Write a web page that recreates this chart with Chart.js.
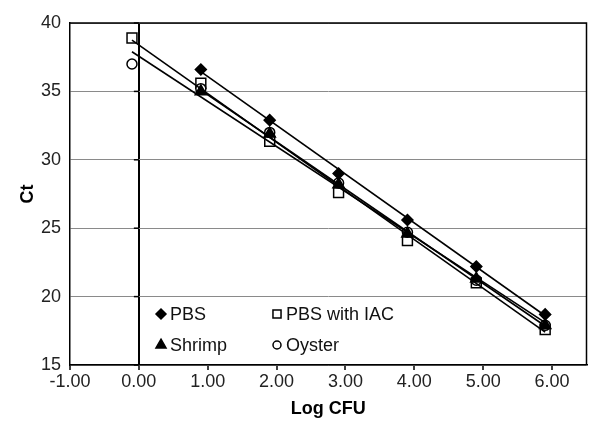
<!DOCTYPE html>
<html><head><meta charset="utf-8">
<script src="https://cdn.jsdelivr.net/npm/chart.js@4"></script>
<style>html,body{margin:0;padding:0;background:#fff}#wrap{width:595px;height:421px;position:relative}</style>
</head><body><div id="wrap"><canvas id="c"></canvas></div>
<script>
// Data
const xValues = [-0.1, 0.9, 1.9, 2.9, 3.9, 4.9, 5.9];
const pbs      = [null, 36.6, 32.9, 29.0, 25.6, 22.2, 18.7];
const pbsIac   = [38.9, 35.6, 31.35, 27.6, 24.1, 21.0, 17.6];
const shrimp   = [null, 35.0, 31.9, 28.2, 24.6, 21.3, 17.9];
const oyster   = [37.0, 35.2, 32.0, 28.3, 24.7, 21.2, 17.9];
// trendline end points (x, y)
const trendPbsX = [0.9, 5.9],    trendPbsY = [36.45, 18.6];
const trendIacX = [-0.1, 5.9],   trendIacY = [38.75, 17.4];
const trendShrimpX = [0.9, 5.9], trendShrimpY = [35.1, 17.85];
const trendOysterX = [-0.1, 5.9],trendOysterY = [37.9, 18.1];
const xTicks = [-1, 0, 1, 2, 3, 4, 5, 6];
const yTicks = [15, 20, 25, 30, 35, 40];
const legendLabels = ['PBS', 'PBS with IAC', 'Shrimp', 'Oyster'];

const FONT = "'Liberation Sans', Arial, Helvetica, sans-serif";
Chart.defaults.font.family = FONT;
Chart.defaults.font.size = 18;
Chart.defaults.color = '#222';

const pts = (xs, ys) => xs.map((x, i) => ys[i] == null ? null : {x: x, y: ys[i]}).filter(p => p);

const markerStyles = [
  {pointStyle: 'rectRot', radius: 5.5, bg: '#000', lr: 5},
  {pointStyle: 'rect', radius: 7, bg: '#fff', lr: 5.7},
  {pointStyle: 'triangle', radius: 6.5, bg: '#000', lr: 5.8},
  {pointStyle: 'circle', radius: 5, bg: '#fff', lr: 4}
];
const seriesData = [pbs, pbsIac, shrimp, oyster];
const drawOrder = [1, 4, 2, 3];

const datasets = [];
seriesData.forEach((s, i) => {
  const m = markerStyles[i];
  datasets.push({
    type: 'scatter', label: legendLabels[i], data: pts(xValues, s),
    pointStyle: m.pointStyle, pointRadius: m.radius, pointBackgroundColor: m.bg,
    pointBorderColor: '#000', pointBorderWidth: 1.5, showLine: false, order: drawOrder[i]
  });
});
[[trendPbsX, trendPbsY], [trendIacX, trendIacY], [trendShrimpX, trendShrimpY], [trendOysterX, trendOysterY]].forEach(t => {
  datasets.push({
    type: 'line', label: '', data: pts(t[0], t[1]), borderColor: '#000', borderWidth: 1.6,
    pointRadius: 0, fill: false, order: 0
  });
});

const framePlugin = {
  id: 'frame',
  beforeDatasetsDraw(chart) {
    const {ctx, chartArea: a, scales} = chart;
    ctx.save();
    ctx.strokeStyle = '#000';
    ctx.lineWidth = 1.5;
    ctx.beginPath();
    ctx.moveTo(a.left, a.top); ctx.lineTo(a.right, a.top); ctx.lineTo(a.right, a.bottom);
    ctx.stroke();
    // small tick marks on the vertical axis line at x = 0
    const x0 = scales.x.getPixelForValue(0);
    yTicks.forEach(v => {
      const y = scales.y.getPixelForValue(v);
      ctx.beginPath(); ctx.moveTo(x0 - 5, y); ctx.lineTo(x0, y); ctx.stroke();
    });
    ctx.restore();
  },
  afterDatasetsDraw(chart) {
    const {ctx, chartArea: a} = chart;
    const pos = [[91, 291], [207, 291], [91, 322], [207, 322]];
    ctx.save();
    ctx.font = '18px ' + FONT;
    ctx.textBaseline = 'middle';
    ctx.textAlign = 'left';
    legendLabels.forEach((lab, i) => {
      const m = markerStyles[i];
      const x = a.left + pos[i][0], y = a.top + pos[i][1];
      ctx.fillStyle = m.bg; ctx.strokeStyle = '#000'; ctx.lineWidth = 1.5;
      Chart.helpers.drawPoint(ctx, {pointStyle: m.pointStyle, radius: m.lr, rotation: 0, borderWidth: 1.5}, x, y);
      ctx.fillStyle = '#111';
      ctx.fillText(lab, x + 9, y + 1);
    });
    ctx.restore();
  }
};

new Chart(document.getElementById('c'), {
  data: {datasets: datasets},
  options: {
    responsive: true, maintainAspectRatio: false, animation: false,
    layout: {padding: {top: 23, right: 2, left: 0, bottom: 0}},
    plugins: {legend: {display: false}, tooltip: {enabled: false}},
    scales: {
      x: {
        type: 'linear', min: -1, max: 6.5,
        afterBuildTicks: s => { s.ticks = xTicks.map(v => ({value: v})); },
        afterFit: s => { s.height = 56; },
        ticks: {stepSize: 1, callback: v => Number(v).toFixed(2), padding: 1, maxRotation: 0, autoSkip: false, color: '#222'},
        grid: {
          color: c => (c.tick && c.tick.value === 0) ? '#000' : 'rgba(0,0,0,0)',
          lineWidth: 2, tickColor: '#000', tickLength: 5, tickWidth: 1.5
        },
        border: {color: '#000', width: 1.5},
        title: {display: true, text: 'Log CFU', font: {weight: 'bold', size: 18}, color: '#000', padding: {top: 0, bottom: 1}}
      },
      y: {
        type: 'linear', min: 15, max: 40,
        afterBuildTicks: s => { s.ticks = yTicks.map(v => ({value: v})); },
        afterFit: s => { s.width = 70; },
        ticks: {stepSize: 5, padding: 9, color: '#222'},
        grid: {color: '#8a8a8a', lineWidth: 1, drawTicks: false},
        border: {color: '#000', width: 1.5},
        title: {display: true, text: 'Ct', font: {weight: 'bold', size: 18}, color: '#000', padding: {top: 17, bottom: 0}}
      }
    }
  },
  plugins: [framePlugin]
});
</script>
</body></html>
